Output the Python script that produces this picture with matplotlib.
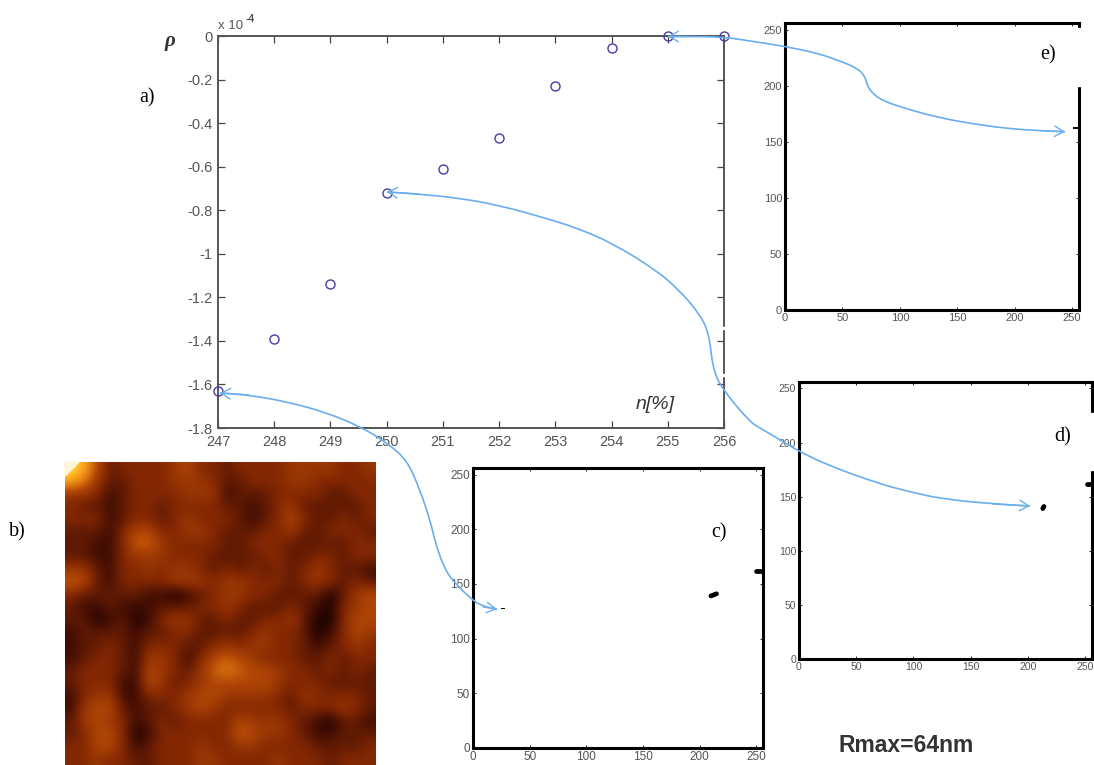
import matplotlib
matplotlib.use('Agg')
import matplotlib.pyplot as plt
from matplotlib.colors import LinearSegmentedColormap
from matplotlib.patches import PathPatch, Polygon, Rectangle
from matplotlib.path import Path

W, H = 1094, 765

# points of panel a)
n_vals = [247, 248, 249, 250, 251, 252, 253, 254, 255, 256]
rho_vals = [-1.63, -1.39, -1.14, -0.72, -0.61, -0.47, -0.23, -0.055, 0, 0]
rho_ticks = [0, -0.2, -0.4, -0.6, -0.8, -1, -1.2, -1.4, -1.6, -1.8]
rho_labels = ['0', '-0.2', '-0.4', '-0.6', '-0.8', '-1', '-1.2', '-1.4', '-1.6', '-1.8']
small_ticks = [0, 50, 100, 150, 200, 250]

# surface of panel b), brightness
afm_rows = [
    [10, 9, 5, 2, 3, 3, 3, 3, 4, 5, 3, 3, 2, 3, 3, 3, 3, 4, 4, 4, 4, 3, 3, 4],
    [9, 7, 4, 2, 2, 3, 3, 3, 4, 4, 4, 3, 2, 2, 3, 3, 3, 4, 4, 3, 3, 3, 3, 3],
    [4, 4, 3, 1, 2, 3, 3, 3, 3, 4, 4, 4, 1, 2, 2, 2, 3, 3, 3, 3, 2, 2, 3, 3],
    [3, 2, 2, 1, 2, 3, 3, 2, 3, 3, 3, 3, 2, 2, 1, 2, 3, 4, 2, 2, 2, 2, 2, 3],
    [3, 3, 3, 1, 2, 3, 3, 2, 3, 4, 3, 3, 3, 2, 1, 2, 3, 5, 3, 2, 2, 3, 2, 3],
    [2, 2, 2, 1, 3, 5, 5, 3, 3, 4, 4, 3, 2, 2, 2, 3, 3, 4, 2, 2, 3, 3, 3, 2],
    [2, 2, 1, 1, 3, 6, 6, 4, 3, 3, 3, 3, 2, 2, 3, 3, 3, 2, 2, 2, 2, 2, 3, 3],
    [2, 2, 1, 1, 3, 4, 4, 4, 3, 3, 3, 2, 2, 2, 2, 3, 3, 2, 2, 3, 3, 2, 3, 3],
    [4, 4, 2, 1, 3, 3, 4, 3, 4, 4, 3, 2, 3, 2, 3, 2, 3, 2, 3, 4, 3, 2, 2, 1],
    [6, 5, 2, 1, 3, 3, 3, 3, 4, 4, 4, 3, 4, 4, 3, 3, 3, 2, 3, 4, 3, 2, 3, 2],
    [3, 2, 2, 2, 2, 2, 1, 1, 0, 1, 2, 3, 4, 4, 3, 3, 2, 2, 2, 2, 0, 2, 4, 5],
    [2, 1, 1, 2, 1, 1, 1, 2, 2, 2, 3, 3, 4, 3, 2, 2, 2, 3, 2, 1, 0, 3, 4, 5],
    [2, 2, 0, 1, 2, 0, 1, 3, 4, 4, 2, 2, 3, 2, 2, 3, 3, 4, 2, 0, 0, 3, 5, 5],
    [1, 2, 2, 2, 2, 1, 2, 2, 3, 3, 2, 2, 2, 2, 3, 4, 3, 3, 2, 0, 1, 3, 5, 4],
    [1, 2, 2, 3, 2, 1, 3, 3, 3, 2, 2, 3, 4, 3, 4, 4, 3, 3, 2, 1, 2, 3, 4, 3],
    [1, 2, 3, 3, 2, 1, 4, 4, 3, 1, 3, 5, 6, 5, 4, 3, 3, 3, 2, 2, 3, 2, 3, 3],
    [2, 3, 3, 3, 2, 1, 5, 4, 3, 2, 4, 6, 7, 6, 5, 5, 4, 3, 3, 2, 3, 2, 3, 2],
    [2, 3, 3, 3, 1, 1, 5, 4, 2, 3, 4, 5, 5, 5, 5, 5, 4, 3, 3, 3, 2, 2, 2, 2],
    [1, 3, 4, 4, 1, 1, 3, 3, 3, 4, 5, 5, 4, 4, 4, 4, 3, 2, 4, 3, 3, 3, 3, 2],
    [1, 4, 5, 5, 2, 1, 2, 2, 3, 4, 5, 4, 3, 3, 3, 3, 3, 2, 3, 3, 3, 4, 3, 2],
    [2, 4, 5, 4, 3, 1, 2, 3, 2, 3, 3, 3, 3, 5, 4, 4, 4, 3, 2, 1, 0, 2, 2, 1],
    [2, 3, 5, 5, 3, 0, 1, 3, 3, 3, 3, 3, 3, 6, 5, 4, 4, 3, 2, 1, 1, 2, 2, 2],
    [3, 3, 5, 5, 3, 1, 2, 3, 3, 3, 4, 3, 3, 4, 4, 3, 3, 3, 3, 2, 2, 2, 2, 3],
    [3, 3, 4, 3, 3, 2, 2, 3, 3, 3, 4, 4, 3, 3, 3, 3, 4, 3, 3, 3, 2, 3, 3, 3],
]

# black spots in the threshold images, as (x0, x1, y0, y1)
spots_c = [(210, 215, 139, 141), (250, 256, 162, 162)]
spots_d = [(213, 214, 139, 141), (252, 256, 162, 162)]
spot_tiny = (25, 27, 128, 128)
spot_e = (252, 256, 162, 162)

# hand drawn arrows, points in picture pixels
arrow_e_x = [1065, 1040, 1013, 980, 940, 907, 883, 872, 867, 865, 857, 840, 817, 783, 750, 724, 690, 668]
arrow_e_y = [131.7, 130.7, 129, 125, 118, 109, 101, 93, 85, 76, 68, 61, 53, 46, 41, 37, 36.5, 36.5]
arrow_d_x = [1030, 993, 943, 910, 877, 830, 800, 777, 760, 750, 723, 713, 709, 699, 679, 656, 612, 577, 545, 498, 458, 418, 387]
arrow_d_y = [506, 504, 499, 492, 483, 466, 452, 438, 428, 422, 390, 370, 333, 313, 290, 270, 243, 228, 218, 205, 198, 194, 192]
arrow_c_x = [497, 483, 470, 455, 445, 436, 430, 420, 407, 387, 363, 328, 288, 249, 220]
arrow_c_y = [609, 607, 598, 583, 570, 545, 520, 490, 460, 443, 428, 413, 402, 395, 393]

afm_cmap = LinearSegmentedColormap.from_list('afm', [
    (0.0, '#180400'), (0.1, '#3f0c02'), (0.3, '#842802'), (0.5, '#b04606'),
    (0.7, '#e07a10'), (0.9, '#ffb020'), (1.0, '#ffe878')])

plt.rcParams['font.family'] = ['Liberation Sans', 'DejaVu Sans']
fig = plt.figure(figsize=(W / 100, H / 100), dpi=100, facecolor='white')


def axes_px(x0, y0, x1, y1):
    return fig.add_axes([x0 / W, 1 - y1 / H, (x1 - x0) / W, (y1 - y0) / H])


def threshold_panel(box, spots, size, lw, spot_lw=3.4, grey='#555555'):
    ax = axes_px(*box)
    ax.set_xlim(0, 256)
    ax.set_ylim(0, 256)
    ax.set_xticks(small_ticks)
    ax.set_yticks(small_ticks)
    ax.tick_params(direction='in', length=2, width=0.6, top=True, right=True,
                   labelsize=size, labelcolor=grey, pad=2)
    for s in ax.spines.values():
        s.set_linewidth(lw)
        s.set_color('black')
    for x0, x1, y0, y1 in spots:
        ax.plot([x0, x1], [y0, y1], color='black', lw=spot_lw, solid_capstyle='round')
    return ax


def smooth_path(xs, ys):
    # quadratic curve with the read points as controls
    verts = [(xs[0], ys[0])]
    codes = [Path.MOVETO]
    for i in range(1, len(xs) - 1):
        verts.append((xs[i], ys[i]))
        codes.append(Path.CURVE3)
        verts.append(((xs[i] + xs[i + 1]) / 2, (ys[i] + ys[i + 1]) / 2))
        codes.append(Path.CURVE3)
    verts.append((xs[-1], ys[-1]))
    codes.append(Path.LINETO)
    return Path(verts, codes)


def arrow_head(ax, xs, ys, i, j):
    ax.annotate('', xy=(xs[i], ys[i]), xytext=(xs[j], ys[j]),
                arrowprops=dict(arrowstyle='->,head_length=0.65,head_width=0.38', color=arrow_col, lw=1.0,
                                shrinkA=0, shrinkB=0), zorder=3)


# panel a)
ax = axes_px(218, 36, 724, 428)
ax.plot(n_vals, rho_vals, 'o', mfc='none', mec='#4a3ca8', mew=1.0, ms=6.5, clip_on=False, zorder=5)
ax.set_xlim(247, 256)
ax.set_ylim(-1.8, 0)
ax.set_xticks(n_vals)
ax.set_yticks(rho_ticks)
ax.set_yticklabels(rho_labels)
ax.tick_params(direction='in', length=5, width=0.9, color='#444444', top=True, right=True,
               labelsize=10.5, labelcolor='#555555')
ax.tick_params(axis='x', pad=5)
ax.tick_params(axis='y', pad=4)
for s in ax.spines.values():
    s.set_linewidth(1.4)
    s.set_color('#555555')

# panel b)
ax_b = axes_px(65, 462, 376, 765)
ax_b.imshow(afm_rows, cmap=afm_cmap, vmin=0, vmax=10, interpolation='bicubic', aspect='auto')
ax_b.axis('off')

# panels c), d), e)
ax_c = threshold_panel((473, 468, 763, 748), spots_c, 8.5, 2.2)
ax_c.plot(spot_tiny[:2], spot_tiny[2:], color='black', lw=0.7)
threshold_panel((799, 382, 1092, 659), spots_d, 7.5, 2.2)
ax_e = threshold_panel((785, 23, 1079, 310), [], 8, 2.2)
ax_e.plot(spot_e[:2], spot_e[2:], color='black', lw=1.4)

# overlay in picture pixels for the cover ups, arrows and labels
over = fig.add_axes([0, 0, 1, 1], facecolor='none')
over.set_xlim(0, W)
over.set_ylim(H, 0)
over.axis('off')

over.add_patch(Rectangle((1040, 28), 44, 58, color='white', zorder=1))
over.add_patch(Rectangle((1050, 413), 44, 57, color='white', zorder=1))
over.add_patch(Rectangle((721, 327), 6, 2, color='white', zorder=1))
over.add_patch(Rectangle((721, 374), 6, 2, color='white', zorder=1))
over.add_patch(Polygon([(65, 462), (79, 462), (65, 476)], color='#fff6d8', zorder=1))

arrow_col = '#6aaeee'
for xs, ys in [(arrow_e_x, arrow_e_y), (arrow_d_x, arrow_d_y), (arrow_c_x, arrow_c_y)]:
    over.add_patch(PathPatch(smooth_path(xs, ys), fc='none', ec=arrow_col, lw=1.2, zorder=3))
    arrow_head(over, xs, ys, -1, -2)
    arrow_head(over, xs, ys, 0, 1)

serif = ['Liberation Serif', 'DejaVu Serif']
for txt, x, y in [('a)', 139, 98), ('b)', 9, 532), ('c)', 711, 533), ('d)', 1054, 437), ('e)', 1040, 55)]:
    over.text(x, y, txt, family=serif, fontsize=14.5, color='black', va='center', ha='left', zorder=4)

over.text(165, 41, '\u03c1', family=serif, fontsize=15, weight='bold', style='italic', color='#333333',
          va='center', ha='left')
over.text(218, 26, 'x 10', fontsize=9.5, color='#555555', va='center', ha='left')
over.text(246, 19, '-4', fontsize=7.5, weight='bold', color='#555555', va='center', ha='left')
over.text(636, 404, 'n[%]', fontsize=14, style='italic', color='#333333', va='center', ha='left')
over.text(839, 745, 'Rmax=64nm', fontsize=16.5, weight='bold', color='#333333', va='center', ha='left')

fig.savefig('out.png', dpi=100)
